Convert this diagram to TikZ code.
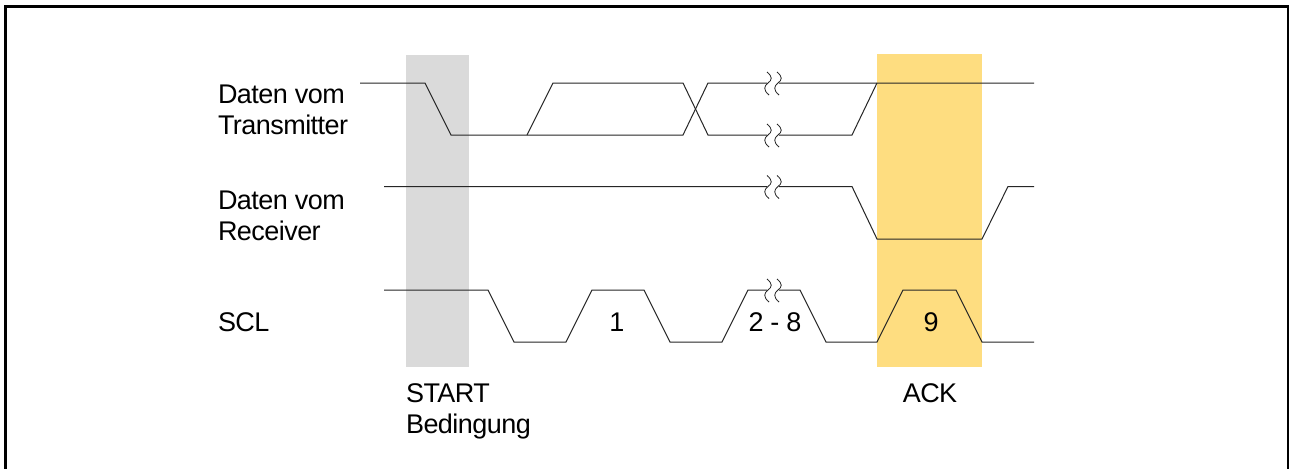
\documentclass[tikz,border=0pt]{standalone}
\usepackage{fontspec}
\setmainfont[LetterSpace=-2.0]{Liberation Sans}
\definecolor{startgrey}{HTML}{DADADA}
\definecolor{ackorange}{HTML}{FEDD80}
\definecolor{wave}{HTML}{262626}
\tikzset{
  x=0.75pt,y=-0.75pt,
  lbl/.style={inner sep=0pt,outer sep=0pt,font=\fontsize{20.25pt}{23pt}\selectfont,text=black},
  lblw/.style={lbl,anchor=base west},
  lblc/.style={lbl,anchor=base},
  wv/.style={draw=wave,line width=0.75pt,line join=miter},
  sq/.style={draw=wave,line width=0.6pt},
  brk/.pic={
    \fill[white] (-6,-1.5) rectangle (6,1.5);
    \foreach \dx in {-5,5}{
      \draw[sq,shift={(\dx,0)}] (-1,-11) .. controls (5,-6) and (4,-3) .. (0,0) .. controls (-4,3) and (-5,7) .. (1,12);
    }
  }
}
\begin{document}
\begin{tikzpicture}
\useasboundingbox (0,0) rectangle (1289,469);
\fill[white] (0,0) rectangle (1289,469);
% frame
\fill[black] (4,5) rectangle (7,469);
\fill[black] (4,5) rectangle (1289,7.5);
\fill[black] (1287,5) rectangle (1289,469);
% highlight bands
\fill[startgrey] (406,55) rectangle (469,367);
\fill[ackorange] (877,54) rectangle (982,367);
% Daten vom Transmitter
\draw[wv] (360,83) -- (425,83) -- (451,135) -- (527,135) -- (683,135) -- (708,83) -- (1034,83);
\draw[wv] (527,135) -- (553,83) -- (683,83) -- (708,135) -- (852,135) -- (877,83);
% Daten vom Receiver
\draw[wv] (384,186.5) -- (852,186.5) -- (877,239) -- (982,239) -- (1008,186.5) -- (1034,186.5);
% SCL
\draw[wv] (384,290) -- (488,290) -- (514,342) -- (566,342) -- (592,290) -- (644,290) -- (670,342) -- (722,342) -- (748,290) -- (800,290) -- (826,342) -- (877,342) -- (903,290) -- (956,290) -- (982,342) -- (1034,342);
% breaks
\pic at (773,83) {brk};
\pic at (773,135) {brk};
\pic at (773,186.5) {brk};
\pic at (773,290) {brk};
% labels
\node[lblw] (t1) at (218,103) {Daten vom};
\node[lblw] (t2) at (218,134) {Transmitter};
\node[lblw] (r1) at (218,209) {Daten vom};
\node[lblw] (r2) at (218,240) {Receiver};
\node[lblw] (scl) at (218,331) {SCL};
\node[lblc] (n1) at (617,331) {1};
\node[lblc] (n2) at (775,331) {2 - 8};
\node[lblc] (n9) at (931,331) {9};
\node[lblw] (st) at (406,402) {START};
\node[lblw] (bd) at (406,433) {Bedingung};
\node[lblc] (ack) at (930,402) {ACK};
\end{tikzpicture}
\end{document}
